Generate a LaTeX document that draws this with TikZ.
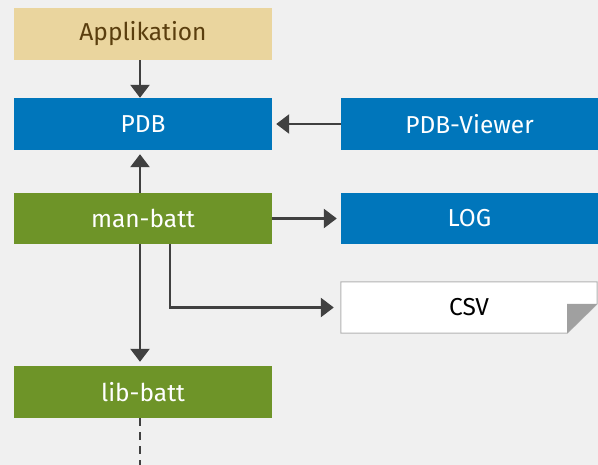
\documentclass[tikz,border=0pt]{standalone}
\usepackage{fontspec}
\setmainfont{Fira Sans}
\usetikzlibrary{arrows.meta,calc}
\definecolor{bg}{RGB}{240,240,240}
\definecolor{sand}{RGB}{234,213,158}
\definecolor{brownt}{RGB}{90,62,14}
\definecolor{blueb}{RGB}{0,118,187}
\definecolor{greenb}{RGB}{110,148,40}
\definecolor{arr}{RGB}{64,64,64}
\definecolor{fold}{RGB}{160,160,160}
\tikzset{
  box/.style={minimum width=258pt,minimum height=52pt,inner sep=0pt,font=\fontsize{24.5}{28}\selectfont},
  bluebox/.style={box,fill=blueb,text=white},
  greenbox/.style={box,fill=greenb,text=white},
  conn/.style={draw=arr,line width=2.6pt,-{Triangle[length=13pt,width=19pt]}},
}
\begin{document}
\begin{tikzpicture}[x=1pt,y=-1pt]
\fill[bg] (0,0) rectangle (598,465);
\useasboundingbox (0,0) rectangle (598,465);
\node[box,fill=sand,text=brownt] (app) at (143,34) {Applikation};
\node[bluebox] (pdb) at (143,124) {PDB};
\node[bluebox,minimum width=257pt] (viewer) at (469.5,124) {PDB-Viewer};
\node[greenbox,minimum height=51pt] (mb) at (143,218.5) {man-batt};
\node[bluebox,minimum width=257pt,minimum height=51pt] (log) at (469.5,218.5) {LOG};
\node[box,minimum width=256pt,minimum height=51pt,text=black] (csv) at (469,307.5) {CSV};
\node[greenbox] (lib) at (143,392) {lib-batt};
% CSV dog-eared outline
\draw[fill=white,draw=fold!80,line width=1pt]
  (csv.north west) -- (csv.north east) -- ($(csv.north east)+(0,22)$)
  -- ($(csv.south east)+(-30,0)$) -- (csv.south west) -- cycle;
\fill[fold] ($(csv.north east)+(-30,22)$) -- ($(csv.north east)+(0,22)$) -- ($(csv.south east)+(-30,0)$) -- cycle;
\node[box,minimum width=256pt,minimum height=51pt,text=black] at (csv.center) {CSV};
% connectors
\draw[conn] ([xshift=-3pt]app.south) -- ([xshift=-3pt]pdb.north);
\draw[conn,shorten >=4pt] (viewer.west) -- (pdb.east);
\draw[conn,shorten >=4pt] ([xshift=-3pt]mb.north) -- ([xshift=-3pt]pdb.south);
\draw[conn,shorten >=4pt] (mb.east) -- (log.west);
\draw[conn,shorten >=7pt] ([xshift=27pt]mb.south) |- (csv.west);
\draw[conn,shorten >=4pt] ([xshift=-3pt]mb.south) -- ([xshift=-3pt]lib.north);
\coordinate (end) at (140,465);
\draw[draw=arr,line width=2.6pt,dash pattern=on 8pt off 6pt] ([xshift=-3pt]lib.south) -- (end);
\end{tikzpicture}
\end{document}
